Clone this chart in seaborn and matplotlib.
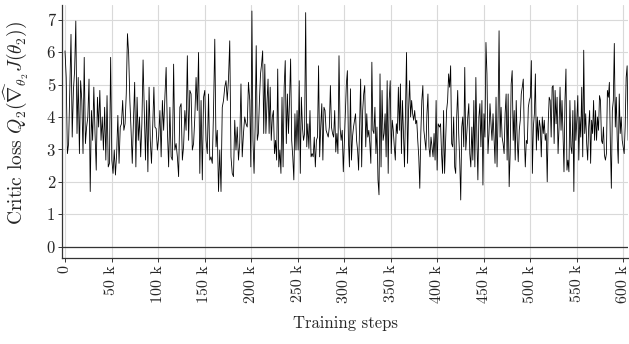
import numpy as np
import pandas as pd
import matplotlib
matplotlib.use("Agg")
import matplotlib.pyplot as plt
import seaborn as sns

# ── 1. Data, one list per ~100k-step stretch ──
seg_start_k = [0, 96.6, 198.5, 301.2, 402.4, 504.3]
seg_end_k = [95.5, 197.1, 299.0, 400.9, 503.2, 605.0]

loss_a = [6.04, 5.22, 2.87, 3.18, 4.92, 6.55, 3.38, 4.82, 5.43, 6.96, 3.49, 5.22, 2.87, 5.12,
          4.51, 2.87, 5.84, 3.18, 3.69, 4.0, 5.17, 1.70, 4.2, 3.28, 4.92, 3.49, 2.36, 4.61,
          3.69, 4.82, 3.28, 4.0, 2.98, 4.3, 2.67, 4.66, 2.46, 2.57, 5.84, 2.67, 2.26, 2.98,
          2.21, 2.87, 4.05, 2.57, 3.69, 3.79, 4.51, 3.59, 3.79, 4.71, 6.57, 5.94, 4.51, 3.59,
          2.57, 3.9, 5.07, 2.46, 4.61, 3.28, 4.0, 2.77, 3.79, 5.76, 4.2, 2.67, 4.51, 2.31,
          4.92, 3.28, 2.57, 3.69, 4.92]
loss_b = [3.69, 3.64, 2.98, 3.38, 4.2, 2.77, 4.51, 3.59, 4.61, 5.53, 3.59, 2.46, 4.3, 2.77,
          2.67, 5.63, 2.98, 3.18, 2.77, 2.16, 4.3, 4.41, 2.67, 3.1, 4.2, 3.59, 5.89, 3.28,
          4.82, 4.71, 2.98, 3.18, 4.0, 5.22, 4.2, 5.99, 2.26, 4.51, 2.06, 4.61, 4.82, 3.28,
          2.87, 4.71, 2.67, 2.77, 2.57, 4.2, 6.4, 3.08, 3.59, 1.7, 2.98, 1.7, 4.3, 4.51,
          4.92, 5.12, 4.51, 5.17, 6.35, 2.77, 2.26, 2.16, 3.9, 2.98, 3.69, 2.67, 3.2, 5.02,
          2.77, 3.49, 4.0, 3.79, 3.69, 5.07]
loss_c = [4.51, 2.46, 7.27, 3.28, 2.26, 3.69, 6.2, 3.28, 3.49, 4.51, 5.33, 5.63, 6.04, 3.49,
          5.63, 3.49, 4.41, 5.17, 3.49, 4.92, 3.28, 4.0, 4.2, 2.87, 3.28, 2.67, 5.48, 2.46,
          2.98, 2.26, 4.61, 2.46, 4.92, 5.74, 3.18, 4.71, 3.49, 4.51, 5.79, 3.28, 2.77, 2.06,
          4.1, 2.98, 4.2, 2.98, 5.12, 2.26, 4.61, 3.69, 3.28, 3.49, 7.22, 3.08, 3.79, 3.03,
          4.2, 2.77, 2.87, 2.77, 3.38, 2.46, 3.28, 3.38, 5.58, 2.77, 3.69, 4.41, 2.67, 4.3,
          4.2, 3.59, 3.49, 3.38, 3.69, 4.97, 3.69, 3.49, 3.38, 4.2, 2.92, 3.49, 2.87, 5.89,
          3.69, 3.28, 3.59, 2.31]
loss_d = [4.1, 5.02, 5.43, 3.28, 2.46, 4.87, 2.67, 3.38, 3.69, 3.9, 4.1, 3.28, 2.98, 2.36,
          3.79, 5.17, 2.46, 4.2, 4.71, 4.97, 3.08, 4.1, 3.38, 3.59, 3.18, 2.57, 5.69, 3.59,
          3.49, 4.3, 2.87, 3.69, 2.06, 1.6, 5.33, 2.46, 4.82, 3.28, 3.49, 4.1, 2.77, 5.12,
          2.26, 4.51, 5.12, 2.87, 3.9, 3.59, 3.08, 2.67, 3.79, 3.49, 4.92, 3.59, 5.02, 2.87,
          4.51, 3.49, 2.46, 4.3, 5.99, 2.57, 4.2, 5.12, 4.0, 4.51, 4.1, 3.9, 4.2, 3.79,
          3.9, 3.28, 2.77, 1.8, 3.49, 4.51, 4.97, 3.59, 3.28, 2.98, 4.1, 4.71, 3.08, 2.77,
          3.38, 3.08, 2.77, 3.49, 2.67, 4.51, 2.36, 3.79]
loss_e = [3.69, 3.79, 2.87, 2.26, 4.2, 2.26, 3.28, 4.2, 4.51, 5.33, 4.92, 5.58, 3.18, 3.08,
          4.0, 2.46, 2.26, 4.0, 4.82, 3.49, 2.67, 1.44, 3.69, 4.0, 3.08, 5.53, 2.98, 3.49,
          4.0, 4.41, 2.87, 2.46, 3.69, 2.67, 4.51, 2.46, 5.22, 3.38, 2.06, 4.0, 4.41, 3.08,
          4.51, 1.9, 4.1, 3.38, 6.3, 5.33, 2.87, 3.49, 4.41, 3.79, 3.28, 4.1, 3.38, 2.57,
          4.61, 2.46, 4.0, 6.66, 3.38, 4.3, 3.38, 3.18, 2.87, 4.1, 4.71, 2.67, 4.71, 1.85,
          2.87, 5.02, 5.43, 3.28, 4.2, 2.67, 4.51, 3.28, 2.62, 3.59, 3.9, 4.71, 4.92, 5.17,
          3.49, 2.46, 3.28, 3.18, 4.3, 4.51, 4.61, 5.74, 2.26, 3.69]
loss_f = [4.1, 5.33, 2.98, 4.0, 3.28, 3.9, 3.69, 2.77, 4.0, 3.49, 3.9, 3.28, 3.49, 2.0,
          3.79, 4.61, 4.51, 3.38, 4.92, 4.97, 3.18, 4.82, 3.79, 4.61, 2.87, 3.69, 4.92, 3.59,
          4.51, 3.49, 2.31, 4.51, 5.48, 2.36, 2.67, 2.31, 4.51, 3.08, 2.87, 4.2, 1.7, 4.51,
          3.28, 3.9, 4.66, 2.67, 4.0, 3.38, 4.92, 2.77, 6.06, 3.49, 4.1, 3.18, 2.67, 3.69,
          4.2, 2.57, 3.9, 3.49, 4.51, 3.28, 4.2, 3.28, 4.0, 3.59, 4.66, 4.51, 3.28, 3.18,
          3.69, 2.82, 2.67, 2.87, 4.82, 4.61, 5.07, 3.18, 1.8, 4.2, 4.51, 6.27, 3.69, 4.61,
          3.28, 2.57, 4.71, 3.49, 4.0, 3.28, 3.08, 2.87, 3.69, 5.22, 5.58, 3.28]

y_ticks = [0, 1, 2, 3, 4, 5, 6, 7]
x_ticks_k = [0, 50, 100, 150, 200, 250, 300, 350, 400, 450, 500, 550, 600]
x_tick_labels = ["0"] + [f"{t} k" for t in x_ticks_k[1:]]

# ── 2. Long table ─────────────────────────────────────────────────────
segments = [loss_a, loss_b, loss_c, loss_d, loss_e, loss_f]
steps = np.concatenate([np.linspace(s, e, len(v)) for s, e, v in zip(seg_start_k, seg_end_k, segments)])
df = pd.DataFrame({"step": steps * 1000, "loss": np.concatenate(segments)})

# ── 3. Plot ───────────────────────────────────────────────────────────
sns.set_theme(style="whitegrid")
plt.rcParams["font.family"] = ["cmr10", "DejaVu Serif"]
plt.rcParams["mathtext.fontset"] = "cm"
plt.rcParams["axes.unicode_minus"] = False

fig = plt.figure(figsize=(6.29, 3.44), dpi=100)
ax = fig.add_axes([0.0986, 0.25, 0.9, 0.735])

ax.axhline(0, color="#333333", lw=0.9, zorder=1)
sns.lineplot(data=df, x="step", y="loss", ax=ax, color="black", lw=0.6, estimator=None)

ax.set_xlim(-3200, 605000)
ax.set_ylim(-0.35, 7.45)
ax.set_yticks(y_ticks)
ax.set_yticklabels([str(t) for t in y_ticks], fontsize=12)
ax.set_xticks([t * 1000 for t in x_ticks_k])
ax.set_xticklabels(x_tick_labels, rotation=90, fontsize=11.5)

ax.grid(True, color="#d9d9d9", lw=0.8)
ax.set_facecolor("white")
for side in ["top", "right"]:
    ax.spines[side].set_visible(False)
for side in ["left", "bottom"]:
    ax.spines[side].set_color("#333333")
    ax.spines[side].set_linewidth(0.9)
ax.tick_params(axis="both", direction="out", length=3, width=0.7, color="#333333",
               left=True, bottom=True, pad=2)

ax.set_xlabel("Training steps", fontsize=12, labelpad=9)
ax.set_ylabel(r"Critic loss $Q_2(\widehat{\nabla}_{\theta_2} J(\theta_2))$", fontsize=14)
ax.yaxis.set_label_coords(-0.055, 0.534)

fig.savefig("out.png", dpi=100)
